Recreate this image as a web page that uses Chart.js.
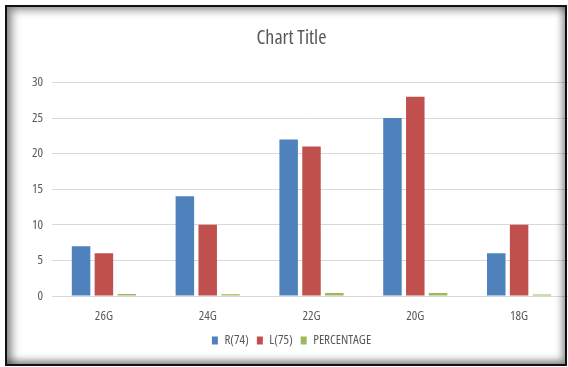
<!DOCTYPE html>
<html>
<head>
<meta charset="utf-8">
<script src="https://cdn.jsdelivr.net/npm/chart.js@4.4.1/dist/chart.umd.min.js"></script>
<style>
  html, body { margin: 0; padding: 0; background: #fff; }
  #wrap { position: relative; width: 568px; height: 367px; overflow: hidden; background: #fff; }
  #holder { position: absolute; left: 6px; top: 7px; width: 566px; height: 355px; }
  #frame {
    position: absolute; left: 5px; top: 5px; width: 558px; height: 357px;
    border: 2px solid #111;
    box-shadow: inset 5px 3px 8px rgba(0,0,0,0.45), inset -3px -4px 7px rgba(0,0,0,0.4);
    pointer-events: none;
  }
</style>
</head>
<body>
<div id="wrap">
  <div id="holder"><canvas id="chart" width="566" height="355"></canvas></div>
  <div id="frame"></div>
</div>
<script>
const gauges = ["26G", "24G", "22G", "20G", "18G"];
const rightValues = [7, 14, 22, 25, 6];
const leftValues = [6, 10, 21, 28, 10];
const percentValues = [0.28, 0.25, 0.42, 0.42, 0.2];
const yTicks = [0, 5, 10, 15, 20, 25, 30];

const fontFamily = "'Open Sans', sans-serif";
const narrow = "condensed";
const textGray = "#595959";

const chart = new Chart(document.getElementById("chart"), {
    type: "bar",
    data: {
        labels: gauges,
        datasets: [
            { label: "R(74)", data: rightValues, backgroundColor: "#4f81bd" },
            { label: "L(75)", data: leftValues, backgroundColor: "#c0504d" },
            { label: "PERCENTAGE", data: percentValues, backgroundColor: "#9bbb59" }
        ]
    },
    options: {
        responsive: false,
        animation: false,
        devicePixelRatio: 1,
        layout: { padding: { left: 6, right: 1, top: 4, bottom: 5 } },
        datasets: { bar: { categoryPercentage: 0.66, barPercentage: 0.81 } },
        plugins: {
            title: {
                display: true,
                text: "Chart Title",
                color: textGray,
                font: { family: fontFamily, size: 20, weight: narrow },
                padding: { top: 15, bottom: 32.5 }
            },
            legend: {
                position: "bottom",
                labels: {
                    color: textGray,
                    font: { family: fontFamily, size: 13, weight: narrow },
                    boxWidth: 6,
                    boxHeight: 8,
                    padding: 8
                }
            },
            tooltip: { enabled: false }
        },
        scales: {
            x: {
                grid: { display: false },
                border: { color: "#d9d9d9" },
                afterFit: s => { s.height = 30; },
                ticks: { color: textGray, font: { family: fontFamily, size: 13, weight: narrow }, padding: 4 }
            },
            y: {
                min: 0,
                max: 30,
                afterBuildTicks: s => { s.ticks = yTicks.map(v => ({ value: v })); },
                afterFit: s => { s.width = 40; },
                grid: { color: "#d9d9d9", drawTicks: false },
                border: { display: false },
                ticks: { color: textGray, font: { family: fontFamily, size: 13, weight: narrow }, padding: 9 }
            }
        }
    }
});
</script>
</body>
</html>
